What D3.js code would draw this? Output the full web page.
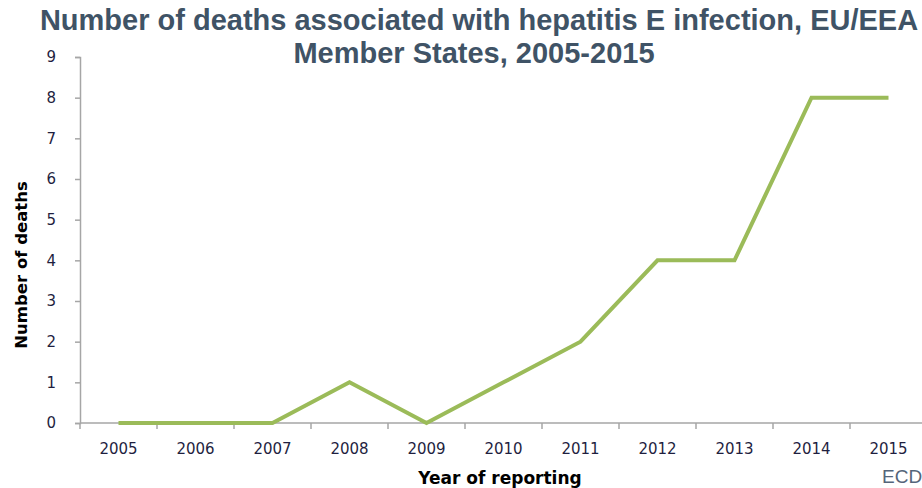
<!DOCTYPE html>
<html>
<head>
<meta charset="utf-8">
<script src="https://cdn.jsdelivr.net/npm/d3@7/dist/d3.min.js"></script>
<style>
  html, body { margin: 0; padding: 0; background: #fff; }
  svg { display: block; }
  .tick-label { font-family: "DejaVu Sans", Verdana, sans-serif; font-size: 15px; }
</style>
</head>
<body>
<svg id="chart" width="922" height="488"></svg>
<script>
// Reported deaths per year
const years = ["2005","2006","2007","2008","2009","2010","2011","2012","2013","2014","2015"];
const deaths = [0, 0, 0, 1, 0, 1, 2, 4, 4, 8, 8];
const yTicks = [0,1,2,3,4,5,6,7,8,9];

const svg = d3.select("#chart");
const plotLeft = 80, plotRight = 927, plotTop = 57, plotBottom = 423;

const x = d3.scaleBand().domain(years).range([plotLeft, plotRight]);
const y = d3.scaleLinear().domain([0, 9]).range([plotBottom, plotTop]);

const axisColor = "#a6a6a6";
const labelColor = "#1f1f3f";

// Y axis
const yAxis = svg.append("g").attr("transform", `translate(${plotLeft},0)`)
  .call(d3.axisLeft(y).tickValues(yTicks).tickSize(5).tickPadding(19).tickFormat(d3.format("d")));
yAxis.attr("font-size", null).attr("font-family", null);
yAxis.select(".domain").attr("stroke", axisColor).attr("stroke-width", 1.5);
yAxis.selectAll(".tick line").attr("stroke", axisColor).attr("stroke-width", 1.5);
yAxis.selectAll(".tick text").attr("class", "tick-label").attr("fill", labelColor);

// X axis with ticks on category boundaries
const xAxisG = svg.append("g").attr("transform", `translate(0,${plotBottom})`);
xAxisG.append("line").attr("x1", plotLeft).attr("x2", plotRight).attr("y1", 0).attr("y2", 0)
  .attr("stroke", axisColor).attr("stroke-width", 1.5);
xAxisG.selectAll("line.tk").data(years).join("line").attr("class", "tk")
  .attr("x1", d => x(d)).attr("x2", d => x(d)).attr("y1", 0).attr("y2", 6)
  .attr("stroke", axisColor).attr("stroke-width", 1.5);
xAxisG.selectAll("text").data(years).join("text")
  .attr("class", "tick-label")
  .attr("x", d => x(d) + x.bandwidth() / 2).attr("y", 31)
  .attr("text-anchor", "middle").attr("fill", labelColor)
  .text(d => d);

// Data line
const line = d3.line()
  .x((d, i) => x(years[i]) + x.bandwidth() / 2)
  .y(d => y(d));
svg.append("path").datum(deaths)
  .attr("d", line)
  .attr("fill", "none").attr("stroke", "#9bbb59").attr("stroke-width", 4)
  .attr("stroke-linejoin", "miter");

// Axis titles
svg.append("text")
  .attr("transform", "translate(27,265) rotate(-90)")
  .attr("text-anchor", "middle").attr("fill", "#000")
  .style("font-family", "DejaVu Sans, Verdana, sans-serif").style("font-size", "16.5px").style("font-weight", "bold")
  .text("Number of deaths");
svg.append("text")
  .attr("x", 500).attr("y", 484)
  .attr("text-anchor", "middle").attr("fill", "#000")
  .style("font-family", "DejaVu Sans, Verdana, sans-serif").style("font-size", "17px").style("font-weight", "bold")
  .text("Year of reporting");

// Title
const title = svg.append("text").attr("text-anchor", "middle").attr("fill", "#3f5366")
  .style("font-family", "Liberation Sans, Arial, sans-serif").style("font-size", "29px").style("font-weight", "bold");
title.append("tspan").attr("x", 479).attr("y", 30).text("Number of deaths associated with hepatitis E infection, EU/EEA");
title.append("tspan").attr("x", 474).attr("y", 63).text("Member States, 2005-2015");

// Source
svg.append("text").attr("x", 882).attr("y", 483).attr("fill", "#54657a")
  .style("font-family", "Liberation Sans, Arial, sans-serif").style("font-size", "19px")
  .text("ECD");
</script>
</body>
</html>
